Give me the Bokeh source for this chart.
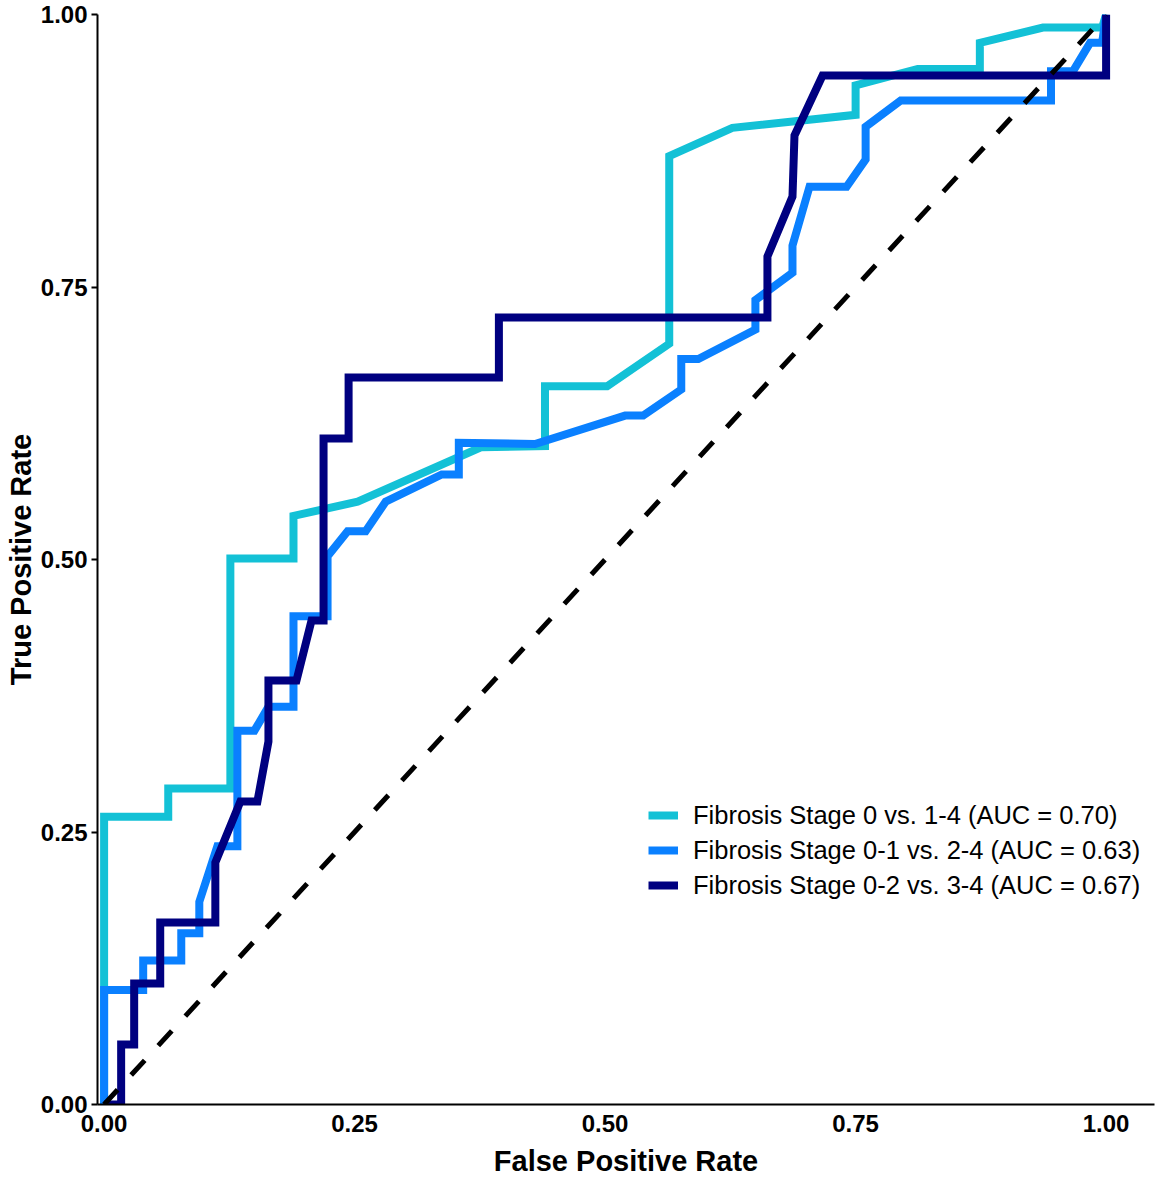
from bokeh.plotting import figure
from bokeh.models import Range1d, FixedTicker, NumeralTickFormatter, Legend, LegendItem
from bokeh.embed import file_html
from bokeh.resources import INLINE

# ROC curve points
fpr_stage0 = [0.0, 0.0, 0.064, 0.064, 0.126, 0.126, 0.189, 0.189, 0.253, 0.376, 0.44, 0.44,
              0.502, 0.564, 0.564, 0.627, 0.75, 0.75, 0.812, 0.874, 0.874, 0.937, 0.996, 1.0]
tpr_stage0 = [0.0, 0.264, 0.264, 0.29, 0.29, 0.501, 0.501, 0.54, 0.553, 0.603, 0.604, 0.659,
              0.659, 0.698, 0.87, 0.896, 0.908, 0.935, 0.95, 0.95, 0.974, 0.988, 0.988, 1.0]

fpr_stage01 = [0.0, 0.0, 0.039, 0.039, 0.077, 0.077, 0.095, 0.095, 0.113, 0.133, 0.133, 0.15,
               0.164, 0.189, 0.189, 0.223, 0.223, 0.243, 0.261, 0.281, 0.337, 0.354, 0.354, 0.43,
               0.52, 0.538, 0.576, 0.576, 0.593, 0.65, 0.65, 0.687, 0.687, 0.704, 0.741, 0.76,
               0.76, 0.795, 0.945, 0.945, 0.967, 0.984, 0.996, 1.0]
tpr_stage01 = [0.0, 0.105, 0.105, 0.132, 0.132, 0.157, 0.157, 0.186, 0.237, 0.237, 0.343, 0.343,
               0.365, 0.365, 0.448, 0.448, 0.503, 0.526, 0.526, 0.553, 0.578, 0.578, 0.607, 0.606,
               0.632, 0.632, 0.656, 0.684, 0.684, 0.711, 0.738, 0.763, 0.788, 0.842, 0.842, 0.867,
               0.897, 0.921, 0.921, 0.948, 0.948, 0.974, 0.974, 1.0]

fpr_stage02 = [0.0, 0.017, 0.017, 0.03, 0.03, 0.056, 0.056, 0.111, 0.111, 0.136, 0.153, 0.164,
               0.164, 0.192, 0.207, 0.219, 0.219, 0.244, 0.244, 0.394, 0.394, 0.662, 0.662, 0.687,
               0.689, 0.717, 1.0, 1.0]
tpr_stage02 = [0.0, 0.0, 0.055, 0.055, 0.111, 0.111, 0.167, 0.167, 0.222, 0.278, 0.278, 0.333,
               0.389, 0.389, 0.444, 0.444, 0.611, 0.611, 0.667, 0.667, 0.722, 0.722, 0.778, 0.833,
               0.889, 0.944, 0.944, 1.0]

chance_x = [0.0, 1.0]
chance_y = [0.0, 1.0]

labels = ['Fibrosis Stage 0 vs. 1-4 (AUC = 0.70)',
          'Fibrosis Stage 0-1 vs. 2-4 (AUC = 0.63)',
          'Fibrosis Stage 0-2 vs. 3-4 (AUC = 0.67)']
colours = ['#13C1D6', '#0A80FF', '#000080']
ticks = [0.0, 0.25, 0.5, 0.75, 1.0]

FONT = 'Liberation Sans'

p = figure(width=1159, height=1184, x_range=Range1d(-0.0066, 1.0483), y_range=Range1d(0.0, 1.0),
           output_backend="svg", toolbar_location=None,
           min_border_left=97, min_border_right=5, min_border_top=14, min_border_bottom=80)

curves = [(fpr_stage0, tpr_stage0), (fpr_stage01, tpr_stage01), (fpr_stage02, tpr_stage02)]
items = []
for (fx, ty), lab, col in zip(curves, labels, colours):
    r = p.line(fx, ty, color=col, line_width=8, line_join='miter', line_cap='butt')
    items.append(LegendItem(label=lab, renderers=[r]))

p.line(chance_x, chance_y, color='black', line_width=5, line_dash="20 20")

# axes
for ax in (p.xaxis, p.yaxis):
    ax.ticker = FixedTicker(ticks=ticks)
    ax.formatter = NumeralTickFormatter(format="0.00")
    ax.axis_line_color = 'black'
    ax.axis_line_width = 2
    ax.major_label_text_font = FONT
    ax.major_label_text_font_style = 'bold'
    ax.major_label_text_font_size = '24px'
    ax.major_label_text_color = 'black'
    ax.axis_label_text_font = FONT
    ax.axis_label_text_font_style = 'bold'
    ax.axis_label_text_font_size = '29px'
    ax.axis_label_text_color = 'black'
    ax.minor_tick_line_color = None

p.xaxis.axis_label = 'False Positive Rate'
p.xaxis.major_tick_line_color = None
p.xaxis.major_tick_out = 0
p.xaxis.major_label_standoff = 10
p.xaxis.axis_label_standoff = 10

p.yaxis.axis_label = 'True Positive Rate'
p.yaxis.major_tick_line_color = 'black'
p.yaxis.major_tick_line_width = 2
p.yaxis.major_tick_in = 0
p.yaxis.major_tick_out = 6
p.yaxis.major_label_standoff = 4
p.yaxis.axis_label_standoff = 1

p.xgrid.grid_line_color = None
p.ygrid.grid_line_color = None
p.outline_line_color = None

legend = Legend(items=items, location=(551, 204))
legend.border_line_color = None
legend.background_fill_alpha = 0
legend.padding = 0
legend.margin = 0
legend.spacing = 5
legend.glyph_width = 30
legend.glyph_height = 30
legend.label_height = 30
legend.label_standoff = 15
legend.label_text_font = FONT
legend.label_text_font_size = '25.5px'
legend.label_text_color = 'black'
p.add_layout(legend)

open("out.html", "w").write(file_html(p, INLINE))
